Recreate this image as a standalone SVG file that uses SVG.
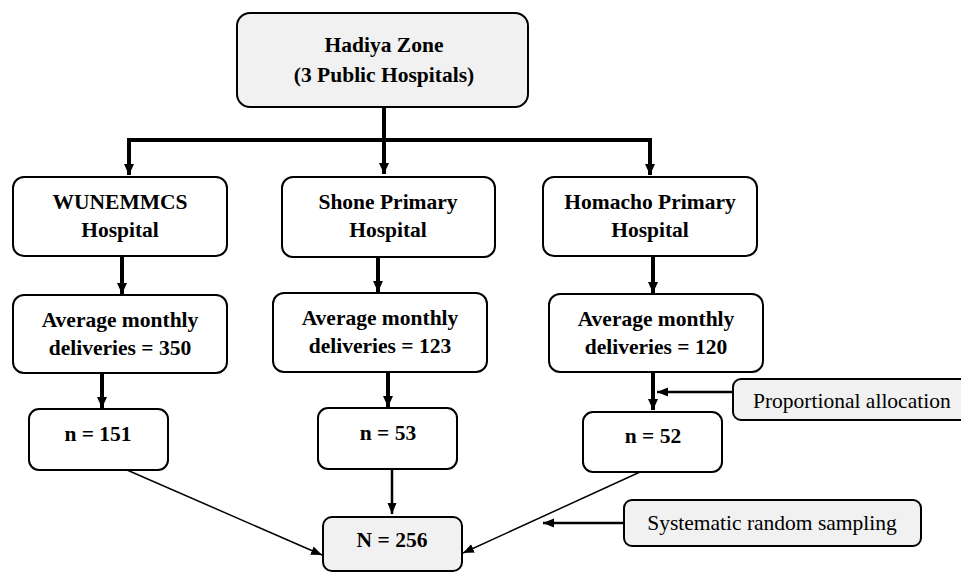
<svg xmlns="http://www.w3.org/2000/svg" width="961" height="573" viewBox="0 0 961 573" font-family="Liberation Serif, Times New Roman, serif">
<style>
.box{fill:#ffffff;stroke:#000;stroke-width:2}
.gbox{fill:#f1f1f1;stroke:#000;stroke-width:2}
.b{font-weight:bold;font-size:21.5px;text-anchor:middle;fill:#000}
.r{font-size:21.5px;fill:#000}
.thick{stroke:#000;stroke-width:4;fill:none}
.med{stroke:#000;stroke-width:2.5;fill:none}
.thin{stroke:#000;stroke-width:1.5;fill:none}
</style>
<defs>
<marker id="ah" markerUnits="userSpaceOnUse" markerWidth="12" markerHeight="12" viewBox="0 0 12 12" refX="11" refY="6" orient="auto">
<path d="M0,1 L11,6 L0,11 Z" fill="#000"/>
</marker>
<marker id="ahs" markerUnits="userSpaceOnUse" markerWidth="12" markerHeight="12" viewBox="0 0 12 12" refX="11" refY="6" orient="auto">
<path d="M0,1.5 L11,6 L0,10.5 Z" fill="#000"/>
</marker>
</defs>
<g id="connectors">
<line class="thick" x1="384" y1="107" x2="384" y2="174" marker-end="url(#ah)"/>
<line class="thick" x1="127" y1="140" x2="652" y2="140"/>
<line class="thick" x1="129" y1="140" x2="129" y2="175" marker-end="url(#ah)"/>
<line class="thick" x1="650" y1="140" x2="650" y2="175" marker-end="url(#ah)"/>
<line class="thick" x1="122" y1="256" x2="122" y2="294" marker-end="url(#ah)"/>
<line class="thick" x1="378" y1="257" x2="378" y2="292" marker-end="url(#ah)"/>
<line class="thick" x1="653" y1="256" x2="653" y2="293" marker-end="url(#ah)"/>
<line class="thick" x1="102" y1="373" x2="102" y2="408" marker-end="url(#ah)"/>
<line class="thick" x1="388" y1="372" x2="388" y2="407" marker-end="url(#ah)"/>
<line class="thick" x1="653" y1="372" x2="653" y2="410" marker-end="url(#ah)"/>
<line class="med" x1="392" y1="469" x2="392" y2="514" marker-end="url(#ahs)"/>
<line class="thin" x1="127" y1="470" x2="322" y2="555" marker-end="url(#ahs)"/>
<line class="thin" x1="640" y1="472" x2="463" y2="553" marker-end="url(#ahs)"/>
<line class="med" x1="733" y1="392" x2="657" y2="392" marker-end="url(#ahs)"/>
<line class="med" x1="624" y1="523" x2="543" y2="523" marker-end="url(#ahs)"/>
</g>
<g id="hadiya">
<rect class="gbox" x="237" y="13" width="291" height="94" rx="13"/>
<text class="b" x="384" y="52">Hadiya Zone</text>
<text class="b" x="384" y="82">(3 Public Hospitals)</text>
</g>
<g id="wunemmcs">
<rect class="box" x="13" y="177" width="214" height="79" rx="11"/>
<text class="b" x="120" y="209">WUNEMMCS</text>
<text class="b" x="120" y="237">Hospital</text>
</g>
<g id="shone">
<rect class="box" x="282" y="177" width="213" height="80" rx="11"/>
<text class="b" x="388" y="209">Shone Primary</text>
<text class="b" x="388" y="237">Hospital</text>
</g>
<g id="homacho">
<rect class="box" x="543" y="177" width="214" height="79" rx="11"/>
<text class="b" x="650" y="209">Homacho Primary</text>
<text class="b" x="650" y="237">Hospital</text>
</g>
<g id="avg1">
<rect class="box" x="13" y="295" width="214" height="78" rx="11"/>
<text class="b" x="120" y="327">Average monthly</text>
<text class="b" x="120" y="355">deliveries = 350</text>
</g>
<g id="avg2">
<rect class="box" x="273" y="293" width="214" height="79" rx="11"/>
<text class="b" x="380" y="325">Average monthly</text>
<text class="b" x="380" y="353">deliveries = 123</text>
</g>
<g id="avg3">
<rect class="box" x="549" y="294" width="214" height="78" rx="11"/>
<text class="b" x="656" y="326">Average monthly</text>
<text class="b" x="656" y="354">deliveries = 120</text>
</g>
<g id="n151">
<rect class="box" x="29" y="409" width="139" height="61" rx="10"/>
<text class="b" x="98" y="441">n = 151</text>
</g>
<g id="n53">
<rect class="box" x="318" y="408" width="139" height="61" rx="10"/>
<text class="b" x="388" y="440">n = 53</text>
</g>
<g id="n52">
<rect class="box" x="583" y="412" width="139" height="60" rx="10"/>
<text class="b" x="653" y="443">n = 52</text>
</g>
<g id="total">
<rect class="gbox" x="323" y="517" width="139" height="54" rx="9"/>
<text class="b" x="392" y="547">N = 256</text>
</g>
<g id="proportional">
<rect class="gbox" x="733" y="379" width="240" height="41" rx="8"/>
<text class="r" x="753" y="408">Proportional allocation</text>
</g>
<g id="systematic">
<rect class="gbox" x="624" y="500" width="297" height="46" rx="8"/>
<text class="r" x="772" y="530" text-anchor="middle">Systematic random sampling</text>
</g>
</svg>
